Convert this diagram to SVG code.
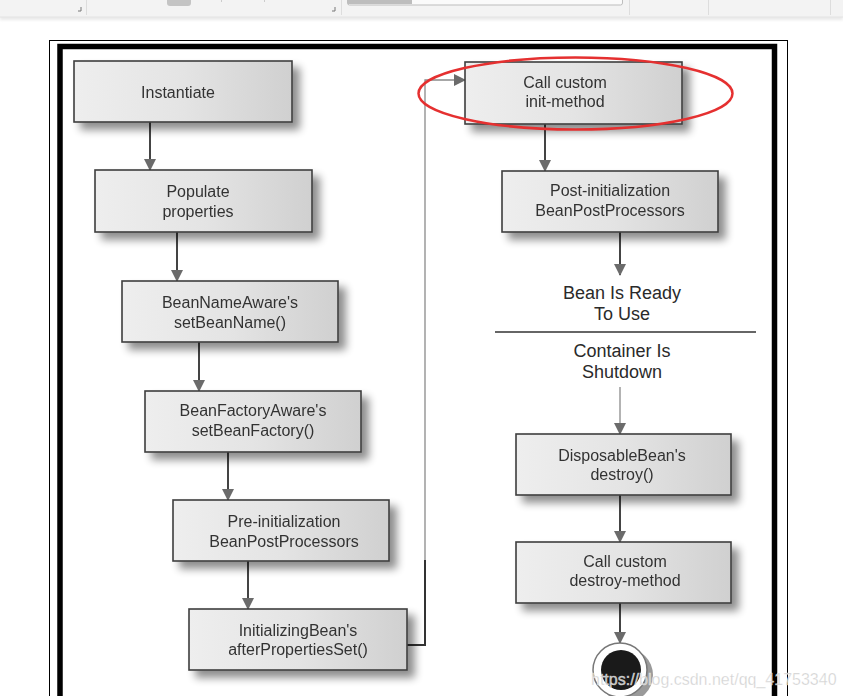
<svg xmlns="http://www.w3.org/2000/svg" width="843" height="696" viewBox="0 0 843 696">
<defs>
<linearGradient id="bg" x1="0" y1="0" x2="1" y2="0">
<stop offset="0" stop-color="#eeeeee"/>
<stop offset="0.5" stop-color="#e4e4e4"/>
<stop offset="1" stop-color="#d0d0d0"/>
</linearGradient>
<filter id="sh" x="-20%" y="-30%" width="150%" height="180%">
<feGaussianBlur in="SourceAlpha" stdDeviation="4"/>
<feOffset dx="7" dy="7" result="b"/>
<feComponentTransfer><feFuncA type="linear" slope="0.45"/></feComponentTransfer>
<feMerge><feMergeNode/><feMergeNode in="SourceGraphic"/></feMerge>
</filter>
<filter id="tb" x="0" y="0" width="100%" height="200%">
<feGaussianBlur stdDeviation="1.5"/>
</filter>
<marker id="ah" markerWidth="12" markerHeight="12" refX="11" refY="6" orient="auto" markerUnits="userSpaceOnUse" viewBox="0 0 12 12">
<path d="M0,0 L12,6 L0,12 Z" fill="#6b6b6b"/>
</marker>
</defs>
<style>
.box{fill:url(#bg);stroke:#3e3e3e;stroke-width:1.6}
.t{font-family:"Liberation Sans",Arial,sans-serif;font-size:16px;fill:#333;text-anchor:middle}
.big{font-family:"Liberation Sans",Arial,sans-serif;font-size:18px;fill:#2a2a2a;text-anchor:middle}
.c{fill:none;stroke:#444;stroke-width:2}
.cl{fill:none;stroke:#8a8a8a;stroke-width:1.3}
</style>
<rect width="843" height="696" fill="#ffffff"/>
<!-- toolbar -->
<g id="toolbar">
<rect x="0" y="16" width="843" height="4" fill="#e8e8e8" filter="url(#tb)"/>
<rect x="0" y="0" width="843" height="17" fill="#f3f3f3"/>
<line x1="0" y1="17" x2="843" y2="17" stroke="#e2e2e2"/>
<g stroke="#dddddd" stroke-width="1">
<line x1="86.5" y1="0" x2="86.5" y2="15"/>
<line x1="341.5" y1="0" x2="341.5" y2="15"/>
<line x1="629.5" y1="0" x2="629.5" y2="15"/>
<line x1="708.5" y1="0" x2="708.5" y2="15"/>
<line x1="830.5" y1="0" x2="830.5" y2="15"/>
</g>
<path d="M78,11 H81 V7" fill="none" stroke="#777" stroke-width="1"/>
<path d="M332,11 H335 V7" fill="none" stroke="#777" stroke-width="1"/>
<rect x="167" y="-4" width="24" height="10" rx="3" fill="#c4c4c4"/>
<line x1="221.5" y1="0" x2="221.5" y2="2" stroke="#ccc"/>
<line x1="264.5" y1="0" x2="264.5" y2="2" stroke="#ccc"/>
<rect x="347.5" y="-4" width="275" height="9" rx="2" fill="#fafafa" stroke="#bdbdbd"/>
<rect x="348" y="0" width="64" height="4" fill="#bdbdbd"/>
</g>
<!-- frames -->
<rect x="49.5" y="40.5" width="738" height="670" fill="none" stroke="#000" stroke-width="1"/>
<rect x="60" y="46.5" width="714.5" height="670" fill="none" stroke="#000" stroke-width="5.5"/>
<!-- connectors -->
<g id="connectors">
<line class="c" x1="150" y1="122" x2="150" y2="170" marker-end="url(#ah)"/>
<line class="c" x1="177" y1="232" x2="177" y2="281" marker-end="url(#ah)"/>
<line class="c" x1="199" y1="342" x2="199" y2="391" marker-end="url(#ah)"/>
<line class="c" x1="228" y1="452" x2="228" y2="500" marker-end="url(#ah)"/>
<line class="c" x1="248" y1="561" x2="248" y2="609" marker-end="url(#ah)"/>
<path d="M407,645 H425 V560" fill="none" stroke="#333" stroke-width="2"/>
<path d="M425,560 V80 H465" class="cl" marker-end="url(#ah)"/>
<line class="c" x1="545" y1="124" x2="545" y2="171" marker-end="url(#ah)"/>
<line class="c" x1="620" y1="232" x2="620" y2="275" marker-end="url(#ah)"/>
<line class="cl" x1="620" y1="387" x2="620" y2="434" marker-end="url(#ah)"/>
<line class="c" x1="620" y1="495" x2="620" y2="542" marker-end="url(#ah)"/>
<line class="c" x1="620" y1="603" x2="620" y2="643" marker-end="url(#ah)"/>
</g>
<!-- nodes -->
<g id="instantiate" filter="url(#sh)">
<rect class="box" x="74" y="61" width="218" height="61"/>
<text class="t" x="178" y="98">Instantiate</text>
</g>
<g id="populate" filter="url(#sh)">
<rect class="box" x="95" y="170" width="217" height="62"/>
<text class="t" x="198" y="197">Populate</text>
<text class="t" x="198" y="217">properties</text>
</g>
<g id="beanNameAware" filter="url(#sh)">
<rect class="box" x="122" y="281" width="216" height="61"/>
<text class="t" x="230" y="308">BeanNameAware's</text>
<text class="t" x="230" y="328">setBeanName()</text>
</g>
<g id="beanFactoryAware" filter="url(#sh)">
<rect class="box" x="145" y="391" width="216" height="61"/>
<text class="t" x="253" y="416">BeanFactoryAware's</text>
<text class="t" x="253" y="436">setBeanFactory()</text>
</g>
<g id="preInit" filter="url(#sh)">
<rect class="box" x="173" y="500" width="216" height="61"/>
<text class="t" x="284" y="527">Pre-initialization</text>
<text class="t" x="284" y="547">BeanPostProcessors</text>
</g>
<g id="initializingBean" filter="url(#sh)">
<rect class="box" x="189" y="609" width="218" height="61"/>
<text class="t" x="298" y="636">InitializingBean's</text>
<text class="t" x="298" y="655">afterPropertiesSet()</text>
</g>
<g id="initMethod" filter="url(#sh)">
<rect class="box" x="465" y="62" width="217" height="62"/>
<text class="t" x="565" y="88">Call custom</text>
<text class="t" x="565" y="107">init-method</text>
</g>
<g id="postInit" filter="url(#sh)">
<rect class="box" x="502" y="171" width="216" height="61"/>
<text class="t" x="610" y="196">Post-initialization</text>
<text class="t" x="610" y="216">BeanPostProcessors</text>
</g>
<g id="ready">
<text class="big" x="622" y="299">Bean Is Ready</text>
<text class="big" x="622" y="320">To Use</text>
<line x1="495" y1="332" x2="756" y2="332" stroke="#333" stroke-width="1.4"/>
<text class="big" x="622" y="357">Container Is</text>
<text class="big" x="622" y="378">Shutdown</text>
</g>
<g id="disposableBean" filter="url(#sh)">
<rect class="box" x="516" y="434" width="215" height="61"/>
<text class="t" x="622" y="461">DisposableBean's</text>
<text class="t" x="622" y="480">destroy()</text>
</g>
<g id="destroyMethod" filter="url(#sh)">
<rect class="box" x="516" y="542" width="215" height="61"/>
<text class="t" x="625" y="567">Call custom</text>
<text class="t" x="625" y="586">destroy-method</text>
</g>
<g id="end">
<circle cx="626" cy="675" r="27" fill="#9a9a9a"/>
<circle cx="620" cy="670" r="27" fill="#ffffff" stroke="#777" stroke-width="1.5"/>
<circle cx="621" cy="670" r="20" fill="#1a1a1a"/>
</g>
<!-- highlight -->
<ellipse cx="575.5" cy="93.5" rx="157" ry="36" fill="none" stroke="#e53030" stroke-width="2.5"/>
<!-- watermark -->
<text x="591" y="685" font-family="'Liberation Sans',Arial,sans-serif" font-size="16" fill="#c9c9c9" fill-opacity="0.9" stroke="#ffffff" stroke-width="0.6" stroke-opacity="0.6">https://blog.csdn.net/qq_41753340</text>
</svg>
